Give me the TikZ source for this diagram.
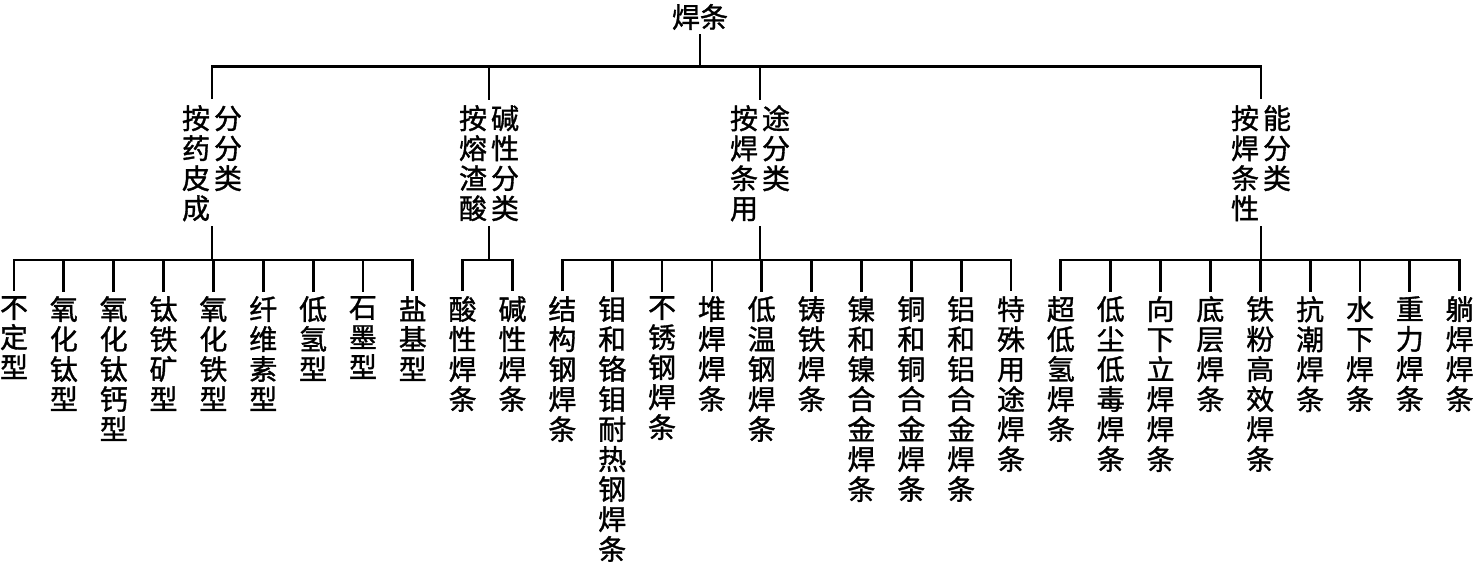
\documentclass[tikz,border=0pt]{standalone}
\usepackage{fontspec}
\newfontfamily\cjk[FakeBold=1.2]{Noto Sans CJK SC}
\newcommand\twocol[2]{\parbox[t]{28pt}{\centering #1}\hspace{4pt}\parbox[t]{28pt}{\centering #2}}
\tikzset{
  lbl/.style={font=\cjk\fontsize{28}{30}\selectfont, inner xsep=0pt, inner ysep=5pt},
  leaf/.style={lbl, align=center, anchor=north},
  cat/.style={lbl, anchor=north, inner ysep=6pt},
  wire/.style={line width=2.8pt, line join=miter},
  tee/.style={line width=2.8pt, line cap=rect}
}
\begin{document}
\begin{tikzpicture}[x=1pt,y=-1pt]
\fill[white] (0,0) rectangle (1477,565);
\useasboundingbox (0,0) rectangle (1477,565);
% root
\node[lbl] (root) at (700,17) {焊条};
% categories
\node[cat] (c1) at (212,99) {\twocol{按\\药\\皮\\成}{分\\分\\类}};
\node[cat] (c2) at (489,99) {\twocol{按\\熔\\渣\\酸}{碱\\性\\分\\类}};
\node[cat] (c3) at (760,99) {\twocol{按\\焊\\条\\用}{途\\分\\类}};
\node[cat] (c4) at (1261,99) {\twocol{按\\焊\\条\\性}{能\\分\\类}};
% leaves
\foreach \k/\t in {
  0/{不\\定\\型}, 1/{氧\\化\\钛\\型}, 2/{氧\\化\\钛\\钙\\型}, 3/{钛\\铁\\矿\\型},
  4/{氧\\化\\铁\\型}, 5/{纤\\维\\素\\型}, 6/{低\\氢\\型}, 7/{石\\墨\\型}, 8/{盐\\基\\型},
  9/{酸\\性\\焊\\条}, 10/{碱\\性\\焊\\条},
  11/{结\\构\\钢\\焊\\条}, 12/{钼\\和\\铬\\钼\\耐\\热\\钢\\焊\\条}, 13/{不\\锈\\钢\\焊\\条},
  14/{堆\\焊\\焊\\条}, 15/{低\\温\\钢\\焊\\条}, 16/{铸\\铁\\焊\\条},
  17/{镍\\和\\镍\\合\\金\\焊\\条}, 18/{铜\\和\\铜\\合\\金\\焊\\条}, 19/{铝\\和\\铝\\合\\金\\焊\\条},
  20/{特\\殊\\用\\途\\焊\\条},
  21/{超\\低\\氢\\焊\\条}, 22/{低\\尘\\低\\毒\\焊\\条}, 23/{向\\下\\立\\焊\\焊\\条},
  24/{底\\层\\焊\\条}, 25/{铁\\粉\\高\\效\\焊\\条}, 26/{抗\\潮\\焊\\条},
  27/{水\\下\\焊\\条}, 28/{重\\力\\焊\\条}, 29/{躺\\焊\\焊\\条}}
  \node[leaf] (l\k) at ({14+49.85*\k},291) {\t};
% top level connectors
\coordinate (topbus) at (0,66.7);
\draw[wire] (c1.north) -- (c1.north |- topbus) -- (c4.north |- topbus) -- (c4.north);
\draw[tee] (root.south) -- (root.south |- topbus);
\draw[tee] (c2.north) -- (c2.north |- topbus);
\draw[tee] (c3.north) -- (c3.north |- topbus);
% leaf level connectors
\coordinate (lbus) at (0,260);
\foreach \c/\a/\b in {c1/0/8, c2/9/10, c3/11/20, c4/21/29}{
  \draw[wire] (l\a.north) -- (l\a.north |- lbus) -- (l\b.north |- lbus) -- (l\b.north);
  \draw[tee] (\c.south) -- (\c.south |- lbus);
}
\foreach \k in {1,...,7,12,13,...,19,22,23,...,28}
  \draw[tee] (l\k.north) -- (l\k.north |- lbus);
\end{tikzpicture}
\end{document}
